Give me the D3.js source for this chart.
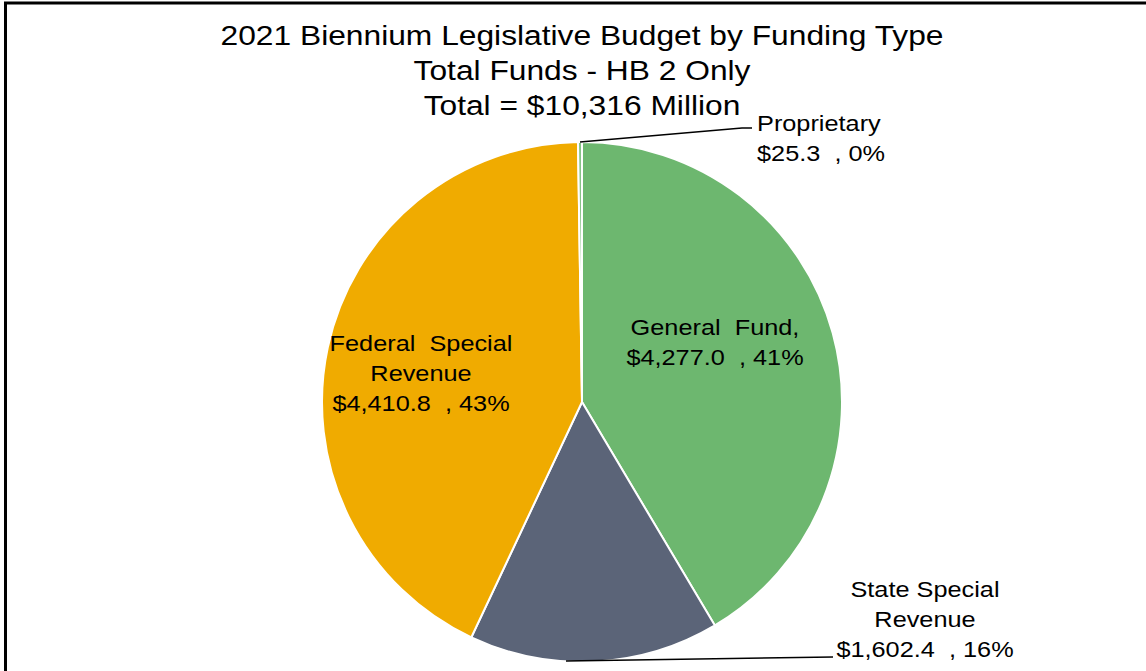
<!DOCTYPE html>
<html><head><meta charset="utf-8">
<script src="https://cdn.jsdelivr.net/npm/d3@7"></script>
<style>
html,body{margin:0;padding:0;background:#fff;}
svg{display:block;font-family:"Liberation Sans",Arial,sans-serif;}
</style></head>
<body><svg id="c" width="1146" height="671"></svg>
<script>
const categories = ["General Fund", "State Special Revenue", "Federal Special Revenue", "Proprietary"];
const values = [4277.0, 1602.4, 4410.8, 25.3];
const percents = ["41%", "16%", "43%", "0%"];
const colors = ["#6db76f", "#5b6478", "#f0ab00", "#85c386"];
const titleLines = ["2021 Biennium Legislative Budget by Funding Type", "Total Funds - HB 2 Only", "Total = $10,316 Million"];
const labelLines = [["General  Fund,"], ["State Special", "Revenue"], ["Federal  Special", "Revenue"], ["Proprietary"]];

const svg = d3.select("#c");
const W = 1146, H = 671;
svg.append("rect").attr("width", W).attr("height", H).attr("fill", "#fff");
// frame
svg.append("line").attr("x1", 4).attr("x2", W).attr("y1", 3).attr("y2", 3).attr("stroke", "#000").attr("stroke-width", 3);
svg.append("line").attr("x1", 5.5).attr("x2", 5.5).attr("y1", 2).attr("y2", H).attr("stroke", "#000").attr("stroke-width", 3);

// text helper: horizontally stretched text (the reference glyphs are wide)
function stretchedText(x, y, txt, size, sx, anchor) {
  svg.append("text")
    .attr("transform", `translate(${x},${y}) scale(${sx},1)`)
    .attr("text-anchor", anchor).attr("font-size", size).attr("fill", "#000")
    .style("white-space", "pre").text(txt);
}

// title
titleLines.forEach((t, i) => stretchedText(582, 45 + i * 35, t, 27.5, 1.155, "middle"));

const cx = 582, cy = 402, R = 260;
const pie = d3.pie().sort(null).value(d => d)(values);
const arc = d3.arc().innerRadius(0).outerRadius(R);
const g = svg.append("g").attr("transform", `translate(${cx},${cy})`);
g.selectAll("path").data(pie).join("path")
  .attr("d", arc).attr("fill", (d, i) => colors[i])
  .attr("stroke", "#fff").attr("stroke-width", 2).attr("stroke-linejoin", "round");

const fmt = d3.format(",.1f");
const valueText = i => "$" + fmt(values[i]) + "  , " + percents[i];

// label placement (anchor, x, y of first line)
const labelLayout = [
  {x: 715, y: 335, anchor: "middle"},
  {x: 925, y: 597, anchor: "middle"},
  {x: 421, y: 351, anchor: "middle"},
  {x: 757, y: 131, anchor: "start"}
];
const lh = 30;
labelLayout.forEach((p, i) => {
  const lines = labelLines[i].concat([valueText(i)]);
  lines.forEach((l, j) => stretchedText(p.x, p.y + j * lh, l, 22.5, 1.125, p.anchor));
});

// leader lines
function edgePoint(i, frac) {
  const d = pie[i];
  const a = d.startAngle + (d.endAngle - d.startAngle) * frac;
  return [cx + R * Math.sin(a), cy - R * Math.cos(a)];
}
const pProp = edgePoint(3, 0.5);
svg.append("polyline").attr("points", [pProp, [742, 128], [752, 128]].map(p => p.join(",")).join(" "))
  .attr("fill", "none").attr("stroke", "#000").attr("stroke-width", 1.5);
svg.append("polyline").attr("points", [[cx - 16, cy + R - 1], [833, 657]].map(p => p.join(",")).join(" "))
  .attr("fill", "none").attr("stroke", "#000").attr("stroke-width", 1.5);
</script></body></html>
